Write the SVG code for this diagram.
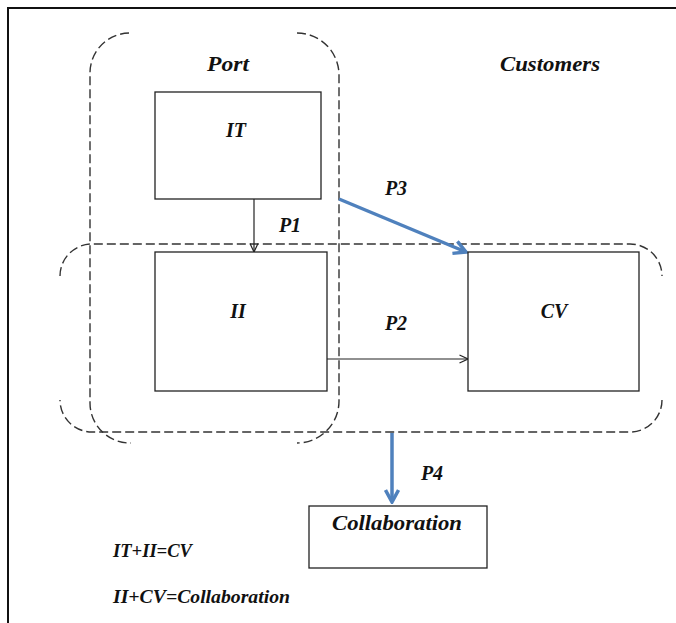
<svg xmlns="http://www.w3.org/2000/svg" width="676" height="623" viewBox="0 0 676 623">
<style>
.box{fill:#fff;stroke:#222;stroke-width:1.3}
.dash{fill:none;stroke:#333;stroke-width:1.4;stroke-dasharray:9 4}
.lbl{font-family:"Liberation Serif","Times New Roman",serif;font-weight:bold;font-style:italic;font-size:20px;fill:#111;text-anchor:middle}
.frm{font-family:"Liberation Serif","Times New Roman",serif;font-weight:bold;font-style:italic;font-size:19px;fill:#111}
.thin{fill:none;stroke:#222;stroke-width:1.2}
.blue{fill:none;stroke:#4f81bd;stroke-width:3.5}
</style>
<defs>
<marker id="open" viewBox="0 0 10 10" refX="9.5" refY="5" markerWidth="10" markerHeight="10" markerUnits="userSpaceOnUse" orient="auto">
<path d="M1,1 L9.5,5 L1,9" fill="none" stroke="#222" stroke-width="1.2"/>
</marker>
<marker id="bluehead" viewBox="0 0 16 16" refX="14" refY="8" markerWidth="16" markerHeight="16" markerUnits="userSpaceOnUse" orient="auto">
<path d="M2,1.5 L14,8 L2,14.5" fill="none" stroke="#4f81bd" stroke-width="3.5" stroke-linejoin="miter"/>
</marker>
</defs>
<rect x="8" y="8" width="720" height="700" fill="none" stroke="#111" stroke-width="2"/>
<g id="port-group">
<path class="dash" d="M129,33 A40,40 0 0 0 90,73 L90,403 A40,40 0 0 0 131,443"/>
<path class="dash" d="M297,33 A42,42 0 0 1 339,75 L339,401 A42,42 0 0 1 297,443"/>
<text class="lbl" x="228" y="71" textLength="42" lengthAdjust="spacingAndGlyphs">Port</text>
</g>
<g id="customers-group">
<path class="dash" d="M60,276 A32,32 0 0 1 92,244 L630,244 A32,32 0 0 1 662,276 M662,400 A32,32 0 0 1 630,432 L92,432 A32,32 0 0 1 60,400"/>
<text class="lbl" x="550" y="71" textLength="100" lengthAdjust="spacingAndGlyphs">Customers</text>
</g>
<g id="connectors">
<line class="thin" x1="254" y1="199" x2="254" y2="252" marker-end="url(#open)"/>
<line class="thin" x1="327" y1="359" x2="468" y2="359" marker-end="url(#open)"/>
<line class="blue" x1="339" y1="199" x2="466" y2="252" marker-end="url(#bluehead)"/>
<line class="blue" x1="392" y1="433" x2="392" y2="502" marker-end="url(#bluehead)"/>
<text class="lbl" x="290" y="232">P1</text>
<text class="lbl" x="396" y="330">P2</text>
<text class="lbl" x="396" y="195">P3</text>
<text class="lbl" x="432" y="480">P4</text>
</g>
<g id="IT">
<rect class="box" x="155" y="92" width="166" height="107"/>
<text class="lbl" x="236" y="137">IT</text>
</g>
<g id="II">
<rect class="box" x="155" y="252" width="172" height="139"/>
<text class="lbl" x="238" y="318">II</text>
</g>
<g id="CV">
<rect class="box" x="468" y="252" width="171" height="139"/>
<text class="lbl" x="554" y="318">CV</text>
</g>
<g id="Collaboration">
<rect class="box" x="309" y="506" width="178" height="62"/>
<text class="lbl" x="397" y="530" textLength="130" lengthAdjust="spacingAndGlyphs">Collaboration</text>
</g>
<g id="formulas">
<text class="frm" x="113" y="557" textLength="79" lengthAdjust="spacingAndGlyphs">IT+II=CV</text>
<text class="frm" x="113" y="603" textLength="177" lengthAdjust="spacingAndGlyphs">II+CV=Collaboration</text>
</g>
</svg>
